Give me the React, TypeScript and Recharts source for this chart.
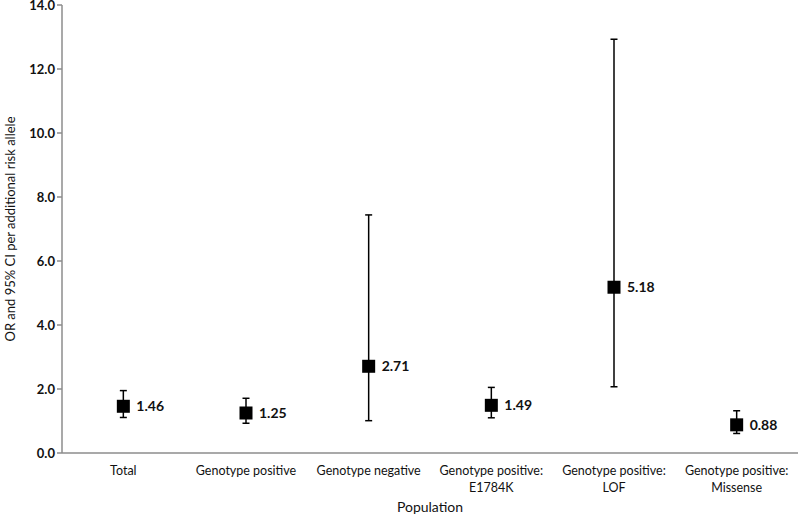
import React from 'react';
import { ComposedChart, Line, XAxis, YAxis, ErrorBar, LabelList, Label } from 'recharts';

const categories = [
  'Total',
  'Genotype positive',
  'Genotype negative',
  'Genotype positive:\nE1784K',
  'Genotype positive:\nLOF',
  'Genotype positive:\nMissense',
];
const orValues = [1.46, 1.25, 2.71, 1.49, 5.18, 0.88];
const ciLower = [1.11, 0.93, 1.01, 1.1, 2.07, 0.61];
const ciUpper = [1.95, 1.71, 7.44, 2.05, 12.93, 1.32];
const yTicks = [0, 2, 4, 6, 8, 10, 12, 14];

const data = categories.map((name, i) => ({
  name,
  or: orValues[i],
  err: [orValues[i] - ciLower[i], ciUpper[i] - orValues[i]],
}));

const FONT = 'Lato, "Open Sans", sans-serif';

const SquareDot = (props: any) => {
  const { cx, cy } = props;
  if (cx == null || cy == null) return null;
  return <rect x={cx - 6.5} y={cy - 6.5} width={13} height={13} fill="#000" />;
};

const XTick = (props: any) => {
  const { x, payload } = props;
  const lines: string[] = String(payload.value).split('\n');
  return (
    <text x={x} y={475} textAnchor="middle" fill="#111" fontSize={12.5} fontFamily={FONT}>
      {lines.map((l, i) => (
        <tspan key={i} x={x} dy={i === 0 ? 0 : 17}>
          {l}
        </tspan>
      ))}
    </text>
  );
};

const ValueLabel = (props: any) => {
  const { x, y, value } = props;
  return (
    <text x={x + 13} y={y + 5} fontSize={14} fontWeight="bold" fill="#111" fontFamily={FONT}>
      {Number(value).toFixed(2)}
    </text>
  );
};

export default function App() {
  return (
    <div style={{ position: 'absolute', left: 0, top: 0, background: '#fff' }}>
      <ComposedChart
        width={800}
        height={517}
        data={data}
        margin={{ top: 5, right: 2, left: 0, bottom: 0 }}
      >
        <XAxis
          dataKey="name"
          scale="band"
          interval={0}
          tickLine={false}
          axisLine={{ stroke: '#8c8c8c', strokeWidth: 1.5 }}
          tick={<XTick />}
          height={64}
        >
          <Label
            value="Population"
            position="insideBottom"
            offset={5}
            style={{ fontSize: 14, fontFamily: FONT, fill: '#111' }}
          />
        </XAxis>
        <YAxis
          domain={[0, 14]}
          ticks={yTicks}
          width={62}
          tickSize={5}
          tickLine={{ stroke: '#8c8c8c', strokeWidth: 1.5 }}
          axisLine={{ stroke: '#8c8c8c', strokeWidth: 1.5 }}
          tickFormatter={(v: number) => v.toFixed(1)}
          tick={{ fontSize: 13, fontFamily: FONT, fill: '#111', fontWeight: 'bold' }}
          interval={0}
        >
          <Label
            value="OR and 95% CI per additional risk allele"
            angle={-90}
            position="insideLeft"
            offset={10}
            style={{ textAnchor: 'middle', fontSize: 13, fontFamily: FONT, fill: '#111' }}
          />
        </YAxis>
        <Line
          dataKey="or"
          stroke="none"
          dot={<SquareDot />}
          activeDot={false}
          isAnimationActive={false}
          legendType="none"
        >
          <ErrorBar dataKey="err" direction="y" width={3.5} stroke="#000" strokeWidth={1.5} />
          <LabelList dataKey="or" content={<ValueLabel />} />
        </Line>
      </ComposedChart>
    </div>
  );
}
